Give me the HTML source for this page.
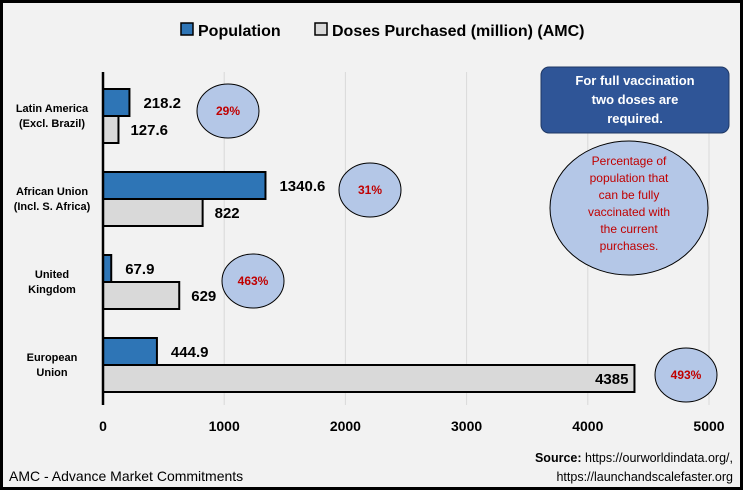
<!DOCTYPE html>
<html><head><meta charset="utf-8"><style>
body{margin:0;background:#fff;}
svg{display:block;font-family:"Liberation Sans",sans-serif;}
</style></head><body>
<svg width="743" height="490" viewBox="0 0 743 490">
<rect x="1.5" y="1.5" width="740" height="487" fill="#f2f2f2" stroke="#000" stroke-width="3"/>
<g>
<rect x="181" y="23" width="12" height="12" fill="#2e75b6" stroke="#000" stroke-width="1.5"/>
<text x="198" y="36" font-size="16" font-weight="bold">Population</text>
<rect x="315" y="23" width="12" height="12" fill="#d9d9d9" stroke="#000" stroke-width="1.5"/>
<text x="332" y="36" font-size="16" font-weight="bold">Doses Purchased (million) (AMC)</text>
</g>
<g id="grid"></g>
<g id="bars"></g>
<g id="axes"></g>
<g>
<rect x="541" y="67" width="188" height="66" rx="8" fill="#2f5597" stroke="#1f3864"/>
<text x="635" y="85" font-size="13" font-weight="bold" fill="#fff" text-anchor="middle"><tspan x="635">For full vaccination</tspan><tspan x="635" dy="19">two doses are</tspan><tspan x="635" dy="19">required.</tspan></text>
<ellipse cx="629" cy="208" rx="79" ry="67" fill="#b4c7e7" stroke="#000"/>
<text x="629" y="165" font-size="12" fill="#c00000" text-anchor="middle"><tspan x="629">Percentage of</tspan><tspan x="629" dy="17">population that</tspan><tspan x="629" dy="17">can be fully</tspan><tspan x="629" dy="17">vaccinated with</tspan><tspan x="629" dy="17">the current</tspan><tspan x="629" dy="17">purchases.</tspan></text>
</g>
<text x="9" y="481" font-size="14">AMC - Advance Market Commitments</text>
<text x="733" y="462" font-size="12.5" text-anchor="end"><tspan font-weight="bold">Source:</tspan> https://ourworldindata.org/,</text>
<text x="733" y="481" font-size="12.5" text-anchor="end">https://launchandscalefaster.org</text>
</svg>
<script>
const categories=[["Latin America","(Excl. Brazil)"],["African Union","(Incl. S. Africa)"],["United","Kingdom"],["European","Union"]];
const population=[218.2,1340.6,67.9,444.9];
const doses=[127.6,822,629,4385];
const percentLabels=["29%","31%","463%","493%"];
const ticks=[0,1000,2000,3000,4000,5000];
const NS="http://www.w3.org/2000/svg";
const x0=103,x1=709,xmax=5000;
const xs=v=>x0+(x1-x0)*v/xmax;
const bandTop=74.5,bandH=83;
const yc=i=>bandTop+bandH*i+bandH/2;
function mk(tag,attrs,parent,txt){const e=document.createElementNS(NS,tag);for(const k in attrs)e.setAttribute(k,attrs[k]);if(txt!==undefined)e.textContent=txt;parent.appendChild(e);return e;}
const grid=document.getElementById('grid'),bars=document.getElementById('bars'),axes=document.getElementById('axes');
ticks.forEach(t=>{
  if(t>0){const g=mk('line',{x1:xs(t),x2:xs(t),y1:72,y2:405,stroke:'#d9d9d9','stroke-width':1},grid);
  
  }
  const l=mk('text',{x:xs(t),y:431,'font-size':14,'font-weight':'bold','text-anchor':'middle'},axes,String(t));
  
  
});
const ax=mk('line',{x1:x0,x2:x0,y1:72,y2:405,stroke:'#000','stroke-width':2.5},axes);


const bh=27;
categories.forEach((c,i)=>{
  const cy=yc(i);
  const lab=mk('text',{x:52,y:cy-4,'font-size':11,'font-weight':'bold','text-anchor':'middle'},axes);
  
  
  mk('tspan',{x:52},lab,c[0]);mk('tspan',{x:52,dy:15},lab,c[1]);
  const p=mk('rect',{x:x0,y:cy-bh,width:xs(population[i])-x0,height:bh,fill:'#2e75b6',stroke:'#000','stroke-width':2},bars);
  
  
  const d=mk('rect',{x:x0,y:cy,width:xs(doses[i])-x0,height:bh,fill:'#d9d9d9',stroke:'#000','stroke-width':2},bars);
  
  
  const pl=mk('text',{x:xs(population[i])+14,y:cy-8,'font-size':15,'font-weight':'bold'},bars,String(population[i]));
  
  
  const inside=xs(doses[i])>620;
  const dl=mk('text',{x:inside?xs(doses[i])-6:xs(doses[i])+12,y:cy+19,'font-size':15,'font-weight':'bold','text-anchor':inside?'end':'start'},bars,String(doses[i]));
  
  
});
const ells=[[228,111],[370,190],[253,281],[686,375]];
percentLabels.forEach((p,i)=>{
  const e=mk('ellipse',{cx:ells[i][0],cy:ells[i][1],rx:31,ry:27,fill:'#b4c7e7',stroke:'#000'},bars);
  
  
  const t=mk('text',{x:ells[i][0],y:ells[i][1]+4,'font-size':12,'font-weight':'bold',fill:'#c00000','text-anchor':'middle'},bars,p);
  
  
});
</script>
</body></html>
